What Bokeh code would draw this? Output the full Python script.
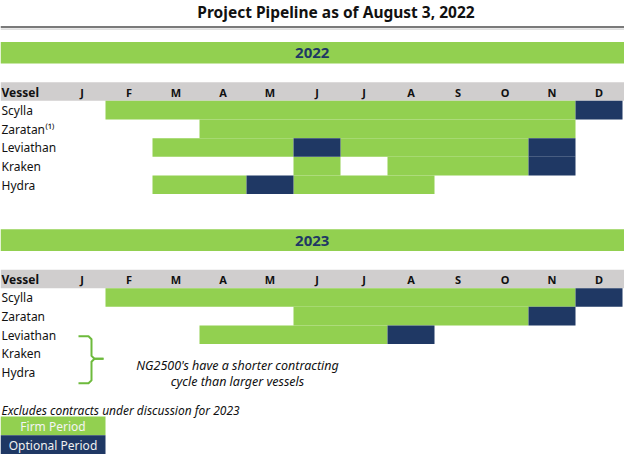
from bokeh.plotting import figure
from bokeh.models import Range1d
from bokeh.embed import file_html
from bokeh.resources import INLINE
from bokeh.core.properties import value

# ---------------- data ----------------
title = "Project Pipeline as of August 3, 2022"
months = ["J", "F", "M", "A", "M", "J", "J", "A", "S", "O", "N", "D"]
years = ["2022", "2023"]
vessels_2022 = ["Scylla", "Zaratan\u207d\u00b9\u207e", "Leviathan", "Kraken", "Hydra"]
vessels_2023 = ["Scylla", "Zaratan", "Leviathan", "Kraken", "Hydra"]

# firm periods: vessel row, first month index, last month index (inclusive)
firm_2022_row = [0, 1, 2, 2, 3, 3, 4, 4]
firm_2022_start = [1, 3, 2, 6, 5, 7, 2, 5]
firm_2022_end = [10, 10, 4, 9, 5, 9, 3, 7]
opt_2022_row = [0, 2, 2, 3, 4]
opt_2022_start = [11, 5, 10, 10, 4]
opt_2022_end = [11, 5, 10, 10, 4]

firm_2023_row = [0, 1, 2]
firm_2023_start = [1, 5, 3]
firm_2023_end = [10, 9, 6]
opt_2023_row = [0, 1, 2]
opt_2023_start = [11, 10, 7]
opt_2023_end = [11, 10, 7]

note_text = ["NG2500's have a shorter contracting", "cycle than larger vessels"]
footnote = "Excludes contracts under discussion for 2023"
legend_labels = ["Firm Period", "Optional Period"]

# ---------------- style / layout ----------------
GREEN = "#92D050"
NAVY = "#1F3864"
HEADER_GRAY = "#D0CECE"
FONT = value("Noto Sans")

X0_PX, MW_PX = 63.0, 47.0          # first month column left edge (px) and month width (px)
def px(x):                          # layout helper: page pixel -> month units
    return (x - X0_PX) / MW_PX

W, H = 624, 454
p = figure(width=W, height=H,
           x_range=Range1d(px(5), px(629)), y_range=Range1d(467.5, 7),
           output_backend="svg", toolbar_location=None, min_border=0,
           x_axis_type=None, y_axis_type=None)
p.grid.visible = False
p.outline_line_color = None
p.background_fill_color = "white"
p.border_fill_color = "white"

LEFT = px(5)
RIGHT = px(628.5)
ROW_H = 18.9

# title
p.text(x=[px(340.5)], y=[19], text=[title], text_font=FONT, text_font_size="15.5px",
       text_font_style="bold", text_align="center", text_baseline="middle",
       text_color="#111111")
# double rule under title
p.segment(x0=[LEFT], x1=[RIGHT], y0=[34], y1=[34], line_color="#7a7a7a", line_width=2)
p.segment(x0=[LEFT], x1=[RIGHT], y0=[36], y1=[36], line_color="#c8c8c8", line_width=1)

sections = [
    (vessels_2022, (firm_2022_row, firm_2022_start, firm_2022_end),
     (opt_2022_row, opt_2022_start, opt_2022_end)),
    (vessels_2023, (firm_2023_row, firm_2023_start, firm_2023_end),
     (opt_2023_row, opt_2023_start, opt_2023_end)),
]

for k, (vessels, firm, opt) in enumerate(sections):
    off = 190 * k
    b_top, b_bot = 49 + off, 71 + off
    h_top, h_bot = 90 + off, 108.8 + off
    # year banner
    p.quad(left=[LEFT], right=[RIGHT], top=[b_top], bottom=[b_bot],
           fill_color=GREEN, line_color=None)
    p.text(x=[(LEFT + RIGHT) / 2], y=[(b_top + b_bot) / 2 + 0.5], text=[years[k]],
           text_font=FONT, text_font_size="15px", text_font_style="bold",
           text_align="center", text_baseline="middle", text_color=NAVY)
    # header band
    p.quad(left=[LEFT], right=[px(629)], top=[h_top], bottom=[h_bot],
           fill_color=HEADER_GRAY, line_color=None)
    hy = (h_top + h_bot) / 2 + 0.5
    p.text(x=[px(6)], y=[hy], text=["Vessel"], text_font=FONT,
           text_font_size="12px", text_font_style="bold", text_align="left",
           text_baseline="middle", text_color="#111111")
    p.text(x=[i + 0.5 for i in range(len(months))], y=[hy] * len(months), text=months,
           text_font=FONT, text_font_size="11px", text_font_style="bold",
           text_align="center", text_baseline="middle", text_color="#111111")
    # bars
    for (rows, starts, ends), color in ((firm, GREEN), (opt, NAVY)):
        p.quad(left=starts, right=[e + 1 for e in ends],
               top=[h_bot + r * ROW_H for r in rows],
               bottom=[h_bot + (r + 1) * ROW_H for r in rows],
               fill_color=color, line_color=None)
    # vessel names
    p.text(x=[px(6)] * len(vessels),
           y=[h_bot + (i + 0.5) * ROW_H + 0.5 for i in range(len(vessels))],
           text=vessels, text_font=FONT, text_font_size="12px", text_align="left",
           text_baseline="middle", text_color="#111111")

# curly bracket next to the NG2500 vessels (2023 rows 2-4)
r_top = 108.8 + 190 + 2 * ROW_H
ty, by = r_top + 11, r_top + 3 * ROW_H + 2
my = (ty + by) / 2 - 1
bx = [px(83), px(93), px(96), px(96), px(99), px(108)]
p.line(x=bx, y=[ty, ty, ty + 3, my - 3, my, my], line_color="#6DBA3C", line_width=2,
       line_join="round")
p.line(x=bx, y=[by, by, by - 3, my + 3, my, my], line_color="#6DBA3C", line_width=2,
       line_join="round")
p.text(x=[px(242)] * 2, y=[my + 7, my + 23], text=note_text, text_font=FONT,
       text_font_size="12.5px", text_font_style="italic", text_align="center",
       text_baseline="middle", text_color="#111111")

# footnote and legend
p.text(x=[px(6)], y=[423], text=[footnote], text_font=FONT, text_font_size="12px",
       text_font_style="italic", text_align="left", text_baseline="middle",
       text_color="#111111")
p.quad(left=[LEFT, LEFT], right=[1.0, 1.0], top=[429, 448], bottom=[448, 467.5],
       fill_color=[GREEN, NAVY], line_color=None)
p.text(x=[(LEFT + 1.0) / 2] * 2, y=[439, 458], text=legend_labels, text_font=FONT,
       text_font_size="12px", text_align="center", text_baseline="middle",
       text_color=["#F4F4F4", "#F0F0F0"])

open("out.html", "w").write(file_html(p, INLINE))
